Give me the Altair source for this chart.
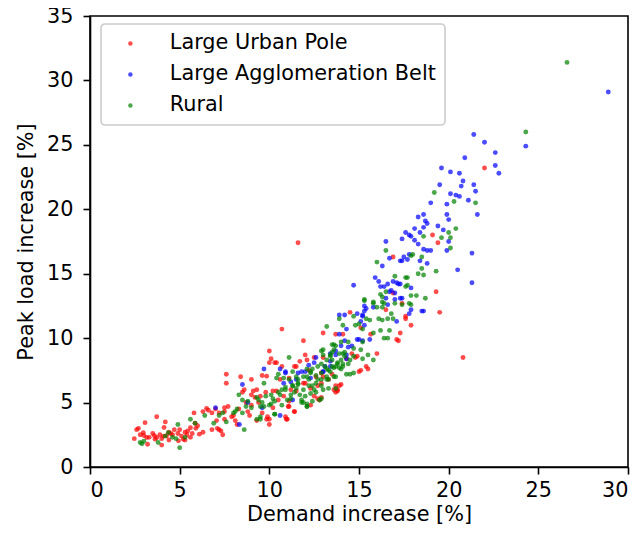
import altair as alt
import pandas as pd

# ---- data ----
urban_x = [2.47, 2.6, 2.7, 2.97, 3.07, 3.16, 3.21, 3.0, 3.72, 3.59, 3.72, 3.63, 4.0, 4.0, 4.2, 4.13, 4.27, 4.5, 4.6, 4.7,
           4.93, 5.1, 5.2, 5.4, 5.45, 5.6, 5.7, 5.86, 5.6, 6.3, 6.1, 5.8, 6.3, 6.5, 6.8, 7.0, 7.06, 7.2, 7.3, 7.4,
           7.5, 7.1, 6.8, 5.3, 4.4, 3.9,
           7.6, 7.6, 8.4, 9.0, 9.6, 10.0, 10.0, 10.3, 12.0, 11.4, 11.7, 11.9, 13.0, 9.1, 9.3, 9.5, 9.8, 9.2, 7.7, 7.9,
           8.1, 8.2, 9.3, 9.6, 9.9, 10.0, 10.0, 11.1, 11.4, 11.1, 10.9, 11.0, 13.7, 13.8, 13.8, 14.0, 7.5, 7.5, 8.6, 8.7,
           8.9, 10.7, 10.7, 11.6, 10.4, 11.2, 12.0, 12.2, 12.5, 12.7, 13.0, 13.0, 13.3, 8.0, 8.3, 8.8, 9.0, 9.4, 10.2, 10.5,
           10.8, 11.5, 12.3, 12.6, 12.9, 13.5,
           14.5, 13.7, 17.4, 17.6, 17.9, 17.2, 16.0, 15.5, 15.1, 14.8, 14.6, 13.6, 13.7, 12.9, 14.9, 14.1, 14.3, 15.65,
           15.1, 16.5, 17.3,
           16.9, 16.9, 19.3, 19.5, 17.6, 19.4, 22.0, 20.8, 19.1,
           10.1, 10.4, 11.5, 12.1, 12.5, 12.9, 9.85, 10.6, 11.1, 11.9, 12.7, 12.8, 12.3, 11.4, 11.05, 9.85, 10.95,
           10.2, 13.9, 15.0, 15.4, 17.1,
           2.8, 3.3, 3.5, 4.1, 4.4, 4.9, 5.0, 5.3, 5.9, 6.0, 6.6, 7.2, 8.5, 9.0]
urban_y = [2.2, 2.9, 3.0, 2.67, 3.44, 2.29, 1.77, 2.45, 3.9, 2.42, 2.29, 2.16, 2.2, 1.7, 3.5, 3.06, 2.42, 2.6, 2.5, 2.9,
           2.03, 2.4, 2.15, 2.5, 2.8, 3.05, 2.6, 3.39, 2.3, 2.7, 2.55, 4.2, 4.3, 4.55, 4.2, 4.5, 3.6, 2.9, 2.8, 2.5,
           4.6, 3.0, 2.9, 2.1, 2.1, 2.5,
           7.2, 6.5, 7.0, 6.8, 7.1, 9.0, 8.1, 8.1, 8.7, 7.8, 8.2, 9.8, 7.0, 5.9, 6.0, 5.5, 5.8, 5.4, 4.7, 3.9,
           3.6, 3.3, 3.6, 4.2, 3.9, 3.7, 3.3, 4.7, 4.3, 5.1, 3.9, 3.7, 6.3, 5.9, 6.0, 6.4, 4.3, 3.7, 6.0, 5.0,
           4.0, 7.8, 10.7, 17.4, 5.9, 6.0, 6.5, 7.5, 5.5, 5.3, 10.4, 8.5, 6.8, 4.0, 4.5, 4.3, 4.8, 5.0, 4.6, 5.2,
           5.5, 5.9, 6.1, 7.0, 6.5, 7.2,
           12.0, 10.3, 12.7, 11.5, 11.0, 9.8, 8.8, 7.6, 7.5, 8.5, 8.8, 6.0, 5.8, 5.4, 8.6, 10.3, 8.4, 10.3,
           10.8, 12.2, 10.4,
           16.3, 13.5, 13.6, 12.0, 11.7, 17.4, 23.2, 8.5, 18.0,
           8.4, 8.1, 7.8, 8.3, 8.5, 7.3, 7.05, 6.8, 6.9, 6.5, 6.3, 5.2, 4.8, 4.3, 4.7, 3.7, 3.7,
           5.9, 6.3, 7.4, 7.8, 9.9,
           2.5, 2.3, 2.6, 2.4, 2.7, 2.6, 2.9, 2.7, 3.0, 3.2, 4.4, 4.2, 5.8, 5.6]

belt_x = [8.33, 8.5, 7.0, 9.7, 10.6, 9.6, 10.6, 10.9, 11.6, 12.0, 12.2, 12.6, 13.4, 13.7, 14.0, 14.2, 11.3, 8.8, 10.8, 11.2,
          13.1,
          13.9, 14.2, 14.9, 15.2, 15.4, 15.8, 15.1, 15.3, 13.9, 14.3, 14.9, 15.2, 15.6, 14.6, 14.3, 13.4, 16.7, 16.6, 17.4,
          17.8, 17.9, 18.5, 17.1, 13.0, 14.7,
          16.5, 16.3, 15.9, 16.1, 16.2, 16.4, 16.6, 16.9, 17.1, 17.2, 16.8, 17.0, 17.0, 16.5, 15.3, 15.3, 15.2, 17.5, 17.4,
          17.8, 16.7,
          19.6, 20.1, 20.6, 20.8, 20.7, 21.4, 21.5, 22.6, 22.8, 19.5, 20.1, 20.4, 20.6, 21.1, 21.6, 19.9, 19.0, 19.9, 20.0,
          18.3, 18.6, 18.7, 18.8, 18.1, 17.6, 17.8, 17.4, 18.4, 18.6, 19.4, 19.7, 20.0, 19.9, 18.1, 18.3, 18.6, 18.8, 19.0,
          17.9, 18.4, 17.7, 17.3, 18.8, 21.3, 20.5, 17.3, 17.9, 21.3, 17.3, 18.6,
          20.9, 21.4, 22.0, 22.6, 24.3, 28.9,
          10.9, 11.8, 12.5, 13.4, 13.7, 14.4, 14.3, 15.0, 11.5, 12.3, 13.0]
belt_y = [3.3, 6.4, 4.6, 7.6, 4.0, 4.6, 7.6, 7.4, 7.3, 7.4, 7.9, 8.5, 8.8, 8.7, 9.4, 9.8, 5.2, 5.0, 6.5, 6.6,
          7.8,
          11.8, 11.8, 11.9, 11.8, 12.3, 12.4, 11.3, 11.0, 10.3, 10.7, 9.9, 9.8, 9.9, 9.4, 8.7, 8.2, 13.6, 12.6, 13.1,
          11.9, 12.2, 12.1, 11.3, 7.4, 14.1,
          17.5, 15.6, 14.7, 14.4, 14.0, 14.0, 14.2, 14.4, 14.3, 14.2, 13.7, 13.5, 13.0, 13.1, 12.5, 12.1, 11.7, 16.3, 16.0,
          16.5, 16.2,
          23.2, 22.9, 22.8, 22.2, 21.8, 21.9, 21.4, 23.4, 22.8, 21.9, 21.2, 21.1, 21.0, 20.7, 19.6, 20.4, 20.5, 19.6, 19.2,
          19.4, 19.6, 19.1, 18.9, 18.5, 18.2, 18.0, 17.7, 18.2, 18.6, 18.7, 18.4, 17.5, 16.8, 17.6, 17.3, 16.9, 16.8, 16.8,
          17.9, 16.0, 16.1, 16.0, 15.8, 16.6, 15.3, 14.2, 13.9, 14.3, 13.1, 12.1,
          24.0, 25.8, 25.2, 24.4, 24.9, 29.1,
          7.3, 7.4, 8.1, 7.8, 9.0, 9.3, 8.4, 9.9, 6.8, 6.9, 7.4]

rural_x = [2.8, 2.9, 3.8, 4.37, 4.9, 5.0, 4.6, 4.8, 5.6, 5.86, 6.4, 6.9, 7.2, 4.2, 5.3, 3.0, 7.4, 7.6,
           11.1, 10.5, 10.4, 11.1, 11.6, 12.1, 12.9, 13.0, 13.5, 13.5, 13.8, 14.1, 14.5, 14.7, 8.6, 8.3, 8.5, 8.1,
           8.5, 9.4, 9.8, 10.1, 10.3, 10.7, 11.4, 11.8, 12.1, 12.0, 12.4, 12.8, 12.5, 12.9, 13.2, 12.7, 12.2, 12.3,
           9.3, 9.5, 10.3, 9.5, 8.7, 9.7, 12.1, 13.2, 10.8, 11.3, 11.6, 11.8, 11.0, 10.1, 10.5, 9.0, 9.3, 9.6,
           8.0, 8.2, 8.8, 10.7, 11.2, 11.5, 11.9, 12.6, 12.9, 13.1, 13.4, 10.9, 11.3, 12.4, 12.6, 13.0, 13.3, 13.6,
           14.0, 14.1, 12.2,
           15.3, 15.8, 16.3, 16.5, 16.4, 17.4, 17.8, 18.2, 16.1, 16.6, 16.8, 14.7, 15.4, 15.6, 13.9, 14.1, 14.8, 15.2,
           16.2, 16.7, 16.4, 16.6, 15.8, 13.6, 13.5, 13.0, 13.9, 14.2, 14.7, 15.1, 15.5, 15.8, 14.5, 14.1, 13.7, 13.2,
           13.4, 13.9, 12.9, 13.6, 14.3, 13.3, 13.7, 14.7, 15.2, 14.4, 15.0, 15.2,
           16.5, 16.0, 16.2, 16.3, 15.3, 15.8, 16.0, 16.3, 17.0, 17.6, 17.7, 17.9, 18.7, 17.0, 16.3, 16.9,
           19.2, 20.3, 21.5, 20.4, 20.0, 20.1, 19.6, 20.1, 18.5, 17.9, 18.5, 17.7, 18.3, 18.6, 19.3, 17.6, 17.9, 18.0,
           18.6, 24.3, 26.6,
           9.7, 10.3, 9.5, 11.9, 12.1, 10.6, 10.9, 11.3, 11.6, 11.9, 12.3, 12.7, 12.9, 13.2, 13.4, 13.6, 13.7, 14.0,
           13.2, 13.3, 13.5, 13.8, 14.0, 14.2, 13.7, 12.4, 12.3, 11.7, 11.2, 10.2, 10.0, 11.5, 12.1, 12.6, 12.9, 14.4]
rural_y = [1.9, 1.8, 1.9, 2.67, 3.3, 1.5, 2.3, 2.2, 3.7, 3.4, 4.0, 3.4, 4.0, 2.4, 2.3, 2.0, 4.2, 3.5,
           8.5, 7.2, 6.9, 6.8, 6.5, 7.0, 9.0, 8.7, 9.5, 8.3, 8.1, 7.8, 7.2, 7.3, 2.9, 5.6, 5.2, 4.3,
           4.2, 5.2, 5.5, 5.6, 5.1, 6.0, 5.8, 5.2, 4.9, 5.5, 5.1, 5.2, 6.0, 6.3, 6.8, 6.8, 6.3, 7.3,
           3.7, 3.9, 4.1, 4.7, 4.7, 6.5, 4.7, 10.9, 6.9, 7.4, 6.4, 5.0, 5.2, 4.9, 5.8, 4.6, 5.4, 5.0,
           4.2, 4.5, 5.1, 4.8, 5.6, 6.1, 6.0, 5.8, 5.3, 7.8, 7.4, 6.2, 6.3, 7.6, 6.5, 6.0, 6.1, 7.7,
           7.6, 8.8, 6.8,
           13.0, 12.8, 13.2, 13.6, 12.7, 12.6, 12.7, 13.3, 11.5, 11.5, 11.9, 11.7, 11.5, 11.4, 11.5, 11.0, 11.0, 10.7,
           10.6, 10.6, 10.0, 10.0, 10.4, 9.5, 8.9, 9.1, 8.8, 8.9, 9.2, 9.1, 8.7, 8.3, 8.3, 8.0, 7.8, 7.6,
           8.6, 7.7, 7.3, 7.0, 7.2, 6.8, 6.1, 8.6, 8.4, 9.7, 11.1, 9.7,
           16.8, 15.9, 13.4, 12.8, 12.9, 12.7, 12.4, 12.4, 12.7, 14.7, 14.1, 13.3, 13.1, 14.8, 11.4, 11.5,
           21.3, 20.6, 20.5, 18.5, 18.2, 17.8, 17.8, 17.0, 16.3, 16.4, 15.4, 14.7, 15.0, 14.9, 15.2, 14.0, 12.6, 16.5,
           17.9, 26.0, 31.4,
           4.7, 4.1, 3.7, 5.0, 4.7, 5.6, 6.0, 6.3, 6.8, 7.0, 7.4, 7.8, 8.0, 8.3, 8.7, 9.1, 9.4, 9.7,
           7.0, 7.5, 7.8, 8.0, 8.3, 8.6, 7.0, 6.3, 5.7, 5.6, 5.3, 5.3, 4.8, 7.0, 7.6, 7.1, 6.8, 8.0]

categories = ["Large Urban Pole", "Large Agglomeration Belt", "Rural"]
colors = ["#ff0000", "#0000ff", "#008000"]
x_ticks = [0, 5, 10, 15, 20, 25, 30]
y_ticks = [0, 5, 10, 15, 20, 25, 30, 35]

rows = []
for name, xs, ys in [(categories[0], urban_x, urban_y),
                     (categories[1], belt_x, belt_y),
                     (categories[2], rural_x, rural_y)]:
    for a, b in zip(xs, ys):
        rows.append({"demand": a, "peak": b, "group": name})
df = pd.DataFrame(rows)

FONT = "DejaVu Sans"
FS = 20.8

chart = alt.Chart(df).mark_circle(size=24, opacity=0.7).encode(
    x=alt.X("demand:Q", title="Demand increase [%]",
            scale=alt.Scale(domain=[0, 30], nice=False, zero=False),
            axis=alt.Axis(values=x_ticks, format="d", labelPadding=6, titlePadding=5)),
    y=alt.Y("peak:Q", title="Peak load increase [%]",
            scale=alt.Scale(domain=[0, 35], nice=False, zero=False),
            axis=alt.Axis(values=y_ticks, format="d", labelPadding=10, titlePadding=10)),
    color=alt.Color("group:N",
                    scale=alt.Scale(domain=categories, range=colors),
                    sort=categories,
                    legend=alt.Legend(orient="none", legendX=11, legendY=8, title=None,
                                      labelFontSize=FS, labelFont=FONT, labelColor="black",
                                      labelLimit=0,
                                      symbolSize=20, symbolType="circle", symbolOpacity=0.7,
                                      padding=9, rowPadding=9, symbolOffset=10, labelOffset=29,
                                      strokeColor="#cccccc", fillColor="rgba(255,255,255,0.8)",
                                      cornerRadius=4)),
).properties(
    width=538, height=451,
    autosize=alt.AutoSizeParams(type="none"),
    padding={"left": 82, "top": 8, "right": 5, "bottom": 61},
).configure_view(
    stroke="black", strokeWidth=1.6
).configure_axis(
    grid=False, domainColor="black", domainWidth=1.6, tickColor="black", tickWidth=1.6, tickSize=7,
    labelFont=FONT, labelFontSize=FS, labelColor="black",
    titleFont=FONT, titleFontSize=FS, titleFontWeight="normal", titleColor="black",
).configure_legend(
    strokeWidth=1.6
)

chart.save("out.html", embed_options={"renderer": "svg", "actions": False})
